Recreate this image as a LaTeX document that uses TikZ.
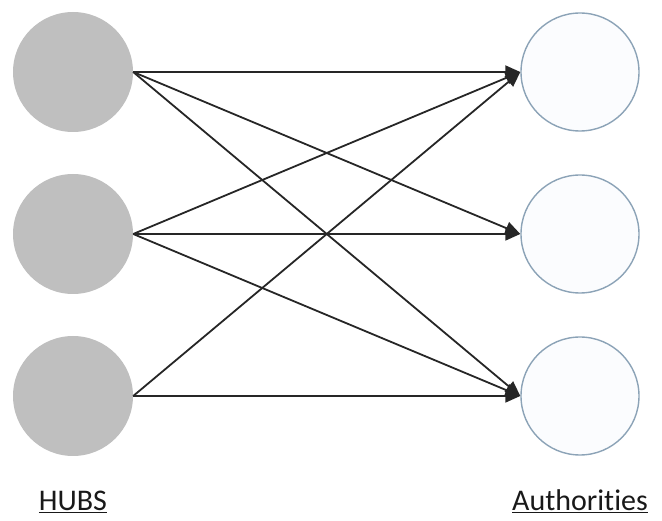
\documentclass[tikz,border=0pt]{standalone}
\usepackage{fontspec}
\setmainfont[Ligatures=NoCommon]{Carlito}
\usetikzlibrary{arrows.meta}

\begin{document}
\begin{tikzpicture}[x=1pt,y=-1pt]
	\definecolor{hubgray}{RGB}{191,191,191}
	\definecolor{authblue}{RGB}{140,163,183}
	\definecolor{authfill}{RGB}{251,252,254}
	\tikzset{hub/.style={circle,fill=hubgray,minimum size=120pt,inner sep=0pt},
		auth/.style={circle,draw=authblue,line width=1.4pt,fill=authfill,minimum size=118pt,inner sep=0pt},
		link/.style={-{Triangle[length=15pt,width=13pt]},line width=1.8pt,color=black!85},
		caption/.style={font=\fontsize{30}{36}\selectfont,text=black!90}}
	\useasboundingbox (0,0) rectangle (662,521);

	\node[hub] (h1) at (73,72) {};
	\node[hub] (h2) at (73,234) {};
	\node[hub] (h3) at (73,396) {};
	\node[auth] (a1) at (580,72) {};
	\node[auth] (a2) at (580,234) {};
	\node[auth] (a3) at (580,396) {};

	\draw[link] (h1.east) -- (a1.west);
	\draw[link] (h1.east) -- (a2.west);
	\draw[link] (h1.east) -- (a3.west);
	\draw[link] (h2.east) -- (a1.west);
	\draw[link] (h2.east) -- (a2.west);
	\draw[link] (h2.east) -- (a3.west);
	\draw[link] (h3.east) -- (a1.west);
	\draw[link] (h3.east) -- (a3.west);

	\node[caption,anchor=base] (hubs) at (73,511) {\underline{HUBS}};
	\node[caption,anchor=base] (auths) at (580,511) {\underline{Authorities}};
\end{tikzpicture}
\end{document}
